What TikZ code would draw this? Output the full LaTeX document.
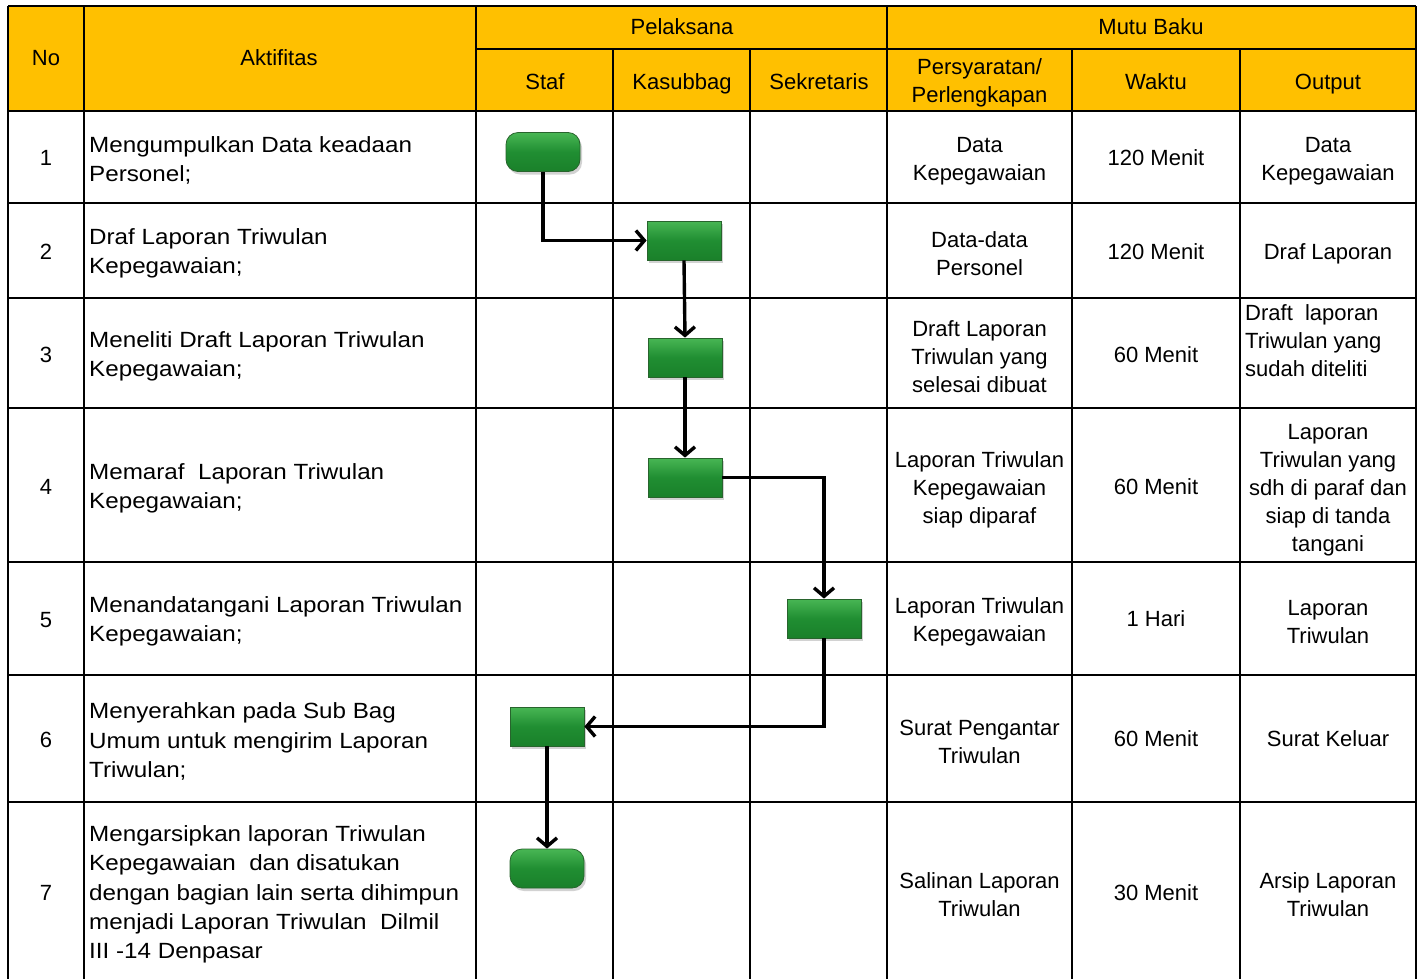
\documentclass[tikz,border=0pt]{standalone}
\usepackage{fontspec}
\setmainfont{Liberation Sans}
\newfontfamily\actfont[FakeStretch=1.1]{Liberation Sans}
\usetikzlibrary{arrows.meta,shadows,calc}
\definecolor{hdr}{RGB}{255,192,0}
\definecolor{gtop}{RGB}{72,182,84}
\definecolor{gmid}{RGB}{32,142,50}
\definecolor{gbot}{RGB}{26,128,42}
\definecolor{gline}{RGB}{40,100,45}
\begin{document}
\begin{tikzpicture}[x=1pt,y=-1pt,
  grid/.style={line width=2.6pt,black},
  txt/.style={font=\fontsize{22}{28}\selectfont,inner sep=0pt,align=center},
  one/.style={txt,text height=15.5pt,text depth=0pt},
  ltxt/.style={font=\actfont\fontsize{22}{29.3}\selectfont,inner sep=0pt,align=left,anchor=west},
  procbox/.style={draw=gline,line width=0.8pt,top color=gtop,bottom color=gbot,middle color=gmid,
    minimum width=74pt,minimum height=39pt,inner sep=0pt,
    drop shadow={opacity=0.35,shadow xshift=2pt,shadow yshift=-3pt}},
  termbox/.style={procbox,rounded corners=12pt},
  arr/.style={line width=3.4pt,-{Straight Barb[length=8.5pt,width=20pt,line width=3.4pt]}},
]
\useasboundingbox (0,0) rectangle (1424,978);
\fill[white] (0,0) rectangle (1424,978);
% header fill
\fill[hdr] (8,6) rectangle (1416,111);
% grid
\draw[grid] (8,6) -- (1416,6);
\draw[grid] (476,49) -- (1416,49);
\foreach \y in {111,203,298,408,562,675,802}{\draw[grid] (8,\y) -- (1416,\y);}
\foreach \x in {8,84,476,887,1416}{\draw[grid] (\x,6) -- (\x,980);}
\foreach \x in {613,750,1072,1240}{\draw[grid] (\x,49) -- (\x,980);}
% header texts
\node[one] (hno) at (46,58) {No};
\node[one] (hakt) at (279,58) {Aktifitas};
\node[one] (hpel) at (682,27) {Pelaksana};
\node[one] (hmutu) at (1151,27) {Mutu Baku};
\node[one] (hstaf) at (545,82) {Staf};
\node[one] (hkas) at (682,82) {Kasubbag};
\node[one] (hsek) at (819,82) {Sekretaris};
\node[txt] (hper) at (979.5,82.5) {Persyaratan/\\Perlengkapan};
\node[one] (hwak) at (1156,82) {Waktu};
\node[one] (hout) at (1328,82) {Output};
% numbers
\node[one] (n1) at (46,158) {1};
\node[one] (n2) at (46,252) {2};
\node[one] (n3) at (46,355) {3};
\node[one] (n4) at (46,487) {4};
\node[one] (n5) at (46,620) {5};
\node[one] (n6) at (46,740) {6};
\node[one] (n7) at (46,893) {7};
% activities
\node[ltxt] (a1) at (89,160.5) {Mengumpulkan Data keadaan\\Personel;};
\node[ltxt] (a2) at (89,253.5) {Draf Laporan Triwulan\\Kepegawaian;};
\node[ltxt] (a3) at (89,356.5) {Meneliti Draft Laporan Triwulan\\Kepegawaian;};
\node[ltxt] (a4) at (89,488.5) {Memaraf\ \ Laporan Triwulan\\Kepegawaian;};
\node[ltxt] (a5) at (89,621.5) {Menandatangani Laporan Triwulan\\Kepegawaian;};
\node[ltxt] (a6) at (89,741.5) {Menyerahkan pada Sub Bag\\Umum untuk mengirim Laporan\\Triwulan;};
\node[ltxt] (a7) at (89,894.5) {Mengarsipkan laporan Triwulan\\Kepegawaian\ \ dan disatukan\\dengan bagian lain serta dihimpun\\menjadi Laporan Triwulan\ \ Dilmil\\III -14 Denpasar};
% persyaratan
\node[txt] (p1) at (979.5,161) {Data\\Kepegawaian};
\node[txt] (p2) at (979.5,253.5) {Data-data\\Personel};
\node[txt] (p3) at (979.5,357) {Draft Laporan\\Triwulan yang\\selesai dibuat};
\node[txt] (p4) at (979.5,490) {Laporan Triwulan\\Kepegawaian\\siap diparaf};
\node[txt] (p5) at (979.5,622) {Laporan Triwulan\\Kepegawaian};
\node[txt] (p6) at (979.5,742) {Surat Pengantar\\Triwulan};
\node[txt] (p7) at (979.5,895) {Salinan Laporan\\Triwulan};
% waktu
\node[one] (w1) at (1156,158) {120 Menit};
\node[one] (w2) at (1156,252) {120 Menit};
\node[one] (w3) at (1156,355) {60 Menit};
\node[one] (w4) at (1156,487) {60 Menit};
\node[one] (w5) at (1156,619) {1 Hari};
\node[one] (w6) at (1156,739) {60 Menit};
\node[one] (w7) at (1156,893) {30 Menit};
% output
\node[txt] (o1) at (1328,161) {Data\\Kepegawaian};
\node[one] (o2) at (1328,252) {Draf Laporan};
\node[txt,align=left,anchor=north west] (o3) at (1245,304) {Draft\ \ laporan\\Triwulan yang\\sudah diteliti};
\node[txt] (o4) at (1328,490) {Laporan\\Triwulan yang\\sdh di paraf dan\\siap di tanda\\tangani};
\node[txt] (o5) at (1328,622) {Laporan\\Triwulan};
\node[one] (o6) at (1328,739) {Surat Keluar};
\node[txt] (o7) at (1328,895) {Arsip Laporan\\Triwulan};
% flow shapes
\node[termbox] (s1) at (543,152) {};
\node[procbox] (s2) at (684,240.5) {};
\node[procbox] (s3) at (685,357.5) {};
\node[procbox] (s4) at (685,477.5) {};
\node[procbox] (s5) at (824,618.5) {};
\node[procbox] (s6) at (547,726.5) {};
\node[termbox] (s7) at (547,868.5) {};
% connectors
\draw[arr] (s1.south) |- (s2.west);
\draw[arr] (s2.south) -- (s3.north);
\draw[arr] (s3.south) -- (s4.north);
\draw[arr] (s4.east) -| (s5.north);
\draw[arr] (s5.south) |- (s6.east);
\draw[arr] (s6.south) -- (s7.north);
\end{tikzpicture}
\end{document}
